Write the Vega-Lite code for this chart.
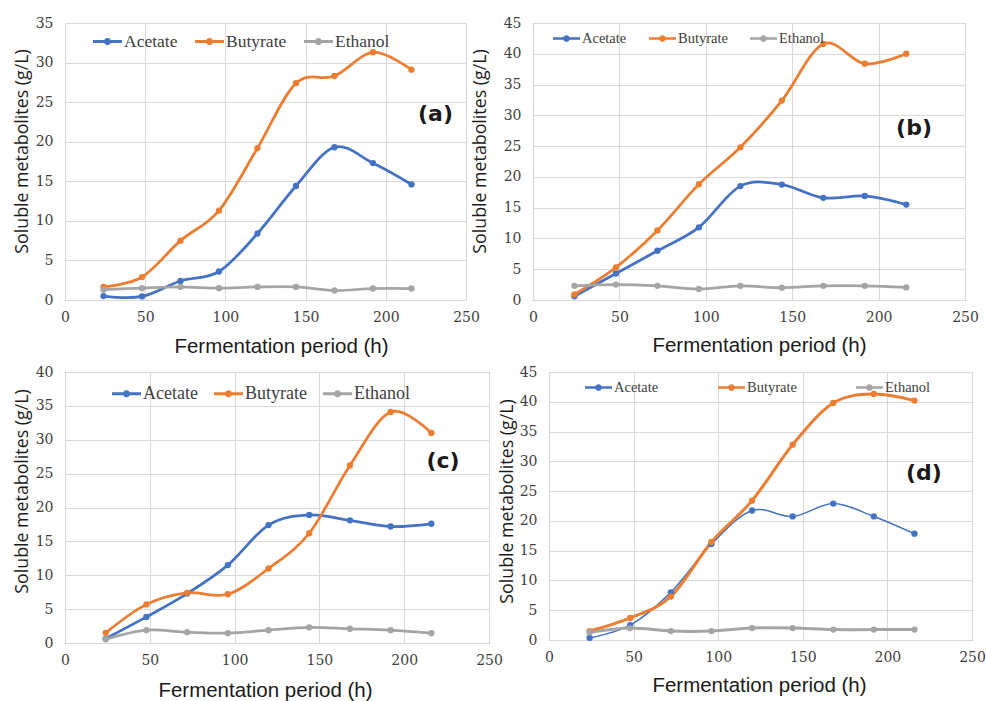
{
  "$schema": "https://vega.github.io/schema/vega-lite/v6.json",
  "padding": {"left": 12, "top": 15, "right": 0, "bottom": 0},
  "background": "white",
  "datasets": {
    "all": [
      {"p":"a","s":"Acetate","h":24,"v":0.5},{"p":"a","s":"Acetate","h":48,"v":0.45},{"p":"a","s":"Acetate","h":72,"v":2.4},{"p":"a","s":"Acetate","h":96,"v":3.6},{"p":"a","s":"Acetate","h":120,"v":8.4},{"p":"a","s":"Acetate","h":144,"v":14.4},{"p":"a","s":"Acetate","h":168,"v":19.3},{"p":"a","s":"Acetate","h":192,"v":17.3},{"p":"a","s":"Acetate","h":216,"v":14.6},
      {"p":"a","s":"Butyrate","h":24,"v":1.65},{"p":"a","s":"Butyrate","h":48,"v":2.9},{"p":"a","s":"Butyrate","h":72,"v":7.5},{"p":"a","s":"Butyrate","h":96,"v":11.3},{"p":"a","s":"Butyrate","h":120,"v":19.2},{"p":"a","s":"Butyrate","h":144,"v":27.4},{"p":"a","s":"Butyrate","h":168,"v":28.3},{"p":"a","s":"Butyrate","h":192,"v":31.3},{"p":"a","s":"Butyrate","h":216,"v":29.1},
      {"p":"a","s":"Ethanol","h":24,"v":1.3},{"p":"a","s":"Ethanol","h":48,"v":1.5},{"p":"a","s":"Ethanol","h":72,"v":1.65},{"p":"a","s":"Ethanol","h":96,"v":1.5},{"p":"a","s":"Ethanol","h":120,"v":1.65},{"p":"a","s":"Ethanol","h":144,"v":1.65},{"p":"a","s":"Ethanol","h":168,"v":1.2},{"p":"a","s":"Ethanol","h":192,"v":1.45},{"p":"a","s":"Ethanol","h":216,"v":1.45},
      {"p":"b","s":"Acetate","h":24,"v":0.6},{"p":"b","s":"Acetate","h":48,"v":4.3},{"p":"b","s":"Acetate","h":72,"v":8.0},{"p":"b","s":"Acetate","h":96,"v":11.8},{"p":"b","s":"Acetate","h":120,"v":18.5},{"p":"b","s":"Acetate","h":144,"v":18.75},{"p":"b","s":"Acetate","h":168,"v":16.6},{"p":"b","s":"Acetate","h":192,"v":16.9},{"p":"b","s":"Acetate","h":216,"v":15.5},
      {"p":"b","s":"Butyrate","h":24,"v":0.9},{"p":"b","s":"Butyrate","h":48,"v":5.3},{"p":"b","s":"Butyrate","h":72,"v":11.3},{"p":"b","s":"Butyrate","h":96,"v":18.8},{"p":"b","s":"Butyrate","h":120,"v":24.8},{"p":"b","s":"Butyrate","h":144,"v":32.4},{"p":"b","s":"Butyrate","h":168,"v":41.6},{"p":"b","s":"Butyrate","h":192,"v":38.4},{"p":"b","s":"Butyrate","h":216,"v":40.0},
      {"p":"b","s":"Ethanol","h":24,"v":2.3},{"p":"b","s":"Ethanol","h":48,"v":2.5},{"p":"b","s":"Ethanol","h":72,"v":2.3},{"p":"b","s":"Ethanol","h":96,"v":1.8},{"p":"b","s":"Ethanol","h":120,"v":2.3},{"p":"b","s":"Ethanol","h":144,"v":2.0},{"p":"b","s":"Ethanol","h":168,"v":2.3},{"p":"b","s":"Ethanol","h":192,"v":2.3},{"p":"b","s":"Ethanol","h":216,"v":2.05},
      {"p":"c","s":"Acetate","h":24,"v":0.65},{"p":"c","s":"Acetate","h":48,"v":3.85},{"p":"c","s":"Acetate","h":72,"v":7.3},{"p":"c","s":"Acetate","h":96,"v":11.5},{"p":"c","s":"Acetate","h":120,"v":17.4},{"p":"c","s":"Acetate","h":144,"v":18.9},{"p":"c","s":"Acetate","h":168,"v":18.1},{"p":"c","s":"Acetate","h":192,"v":17.2},{"p":"c","s":"Acetate","h":216,"v":17.6},
      {"p":"c","s":"Butyrate","h":24,"v":1.5},{"p":"c","s":"Butyrate","h":48,"v":5.7},{"p":"c","s":"Butyrate","h":72,"v":7.4},{"p":"c","s":"Butyrate","h":96,"v":7.2},{"p":"c","s":"Butyrate","h":120,"v":11.0},{"p":"c","s":"Butyrate","h":144,"v":16.2},{"p":"c","s":"Butyrate","h":168,"v":26.2},{"p":"c","s":"Butyrate","h":192,"v":34.1},{"p":"c","s":"Butyrate","h":216,"v":31.0},
      {"p":"c","s":"Ethanol","h":24,"v":0.55},{"p":"c","s":"Ethanol","h":48,"v":1.9},{"p":"c","s":"Ethanol","h":72,"v":1.6},{"p":"c","s":"Ethanol","h":96,"v":1.45},{"p":"c","s":"Ethanol","h":120,"v":1.9},{"p":"c","s":"Ethanol","h":144,"v":2.3},{"p":"c","s":"Ethanol","h":168,"v":2.1},{"p":"c","s":"Ethanol","h":192,"v":1.9},{"p":"c","s":"Ethanol","h":216,"v":1.45},
      {"p":"d","s":"Acetate","h":24,"v":0.35},{"p":"d","s":"Acetate","h":48,"v":2.5},{"p":"d","s":"Acetate","h":72,"v":8.0},{"p":"d","s":"Acetate","h":96,"v":16.1},{"p":"d","s":"Acetate","h":120,"v":21.75},{"p":"d","s":"Acetate","h":144,"v":20.75},{"p":"d","s":"Acetate","h":168,"v":22.9},{"p":"d","s":"Acetate","h":192,"v":20.75},{"p":"d","s":"Acetate","h":216,"v":17.85},
      {"p":"d","s":"Butyrate","h":24,"v":1.5},{"p":"d","s":"Butyrate","h":48,"v":3.7},{"p":"d","s":"Butyrate","h":72,"v":7.3},{"p":"d","s":"Butyrate","h":96,"v":16.45},{"p":"d","s":"Butyrate","h":120,"v":23.4},{"p":"d","s":"Butyrate","h":144,"v":32.8},{"p":"d","s":"Butyrate","h":168,"v":39.8},{"p":"d","s":"Butyrate","h":192,"v":41.3},{"p":"d","s":"Butyrate","h":216,"v":40.2},
      {"p":"d","s":"Ethanol","h":24,"v":1.3},{"p":"d","s":"Ethanol","h":48,"v":2.0},{"p":"d","s":"Ethanol","h":72,"v":1.5},{"p":"d","s":"Ethanol","h":96,"v":1.5},{"p":"d","s":"Ethanol","h":120,"v":2.0},{"p":"d","s":"Ethanol","h":144,"v":2.0},{"p":"d","s":"Ethanol","h":168,"v":1.75},{"p":"d","s":"Ethanol","h":192,"v":1.75},{"p":"d","s":"Ethanol","h":216,"v":1.75}
    ]
  },
  "config": {
    "axis": {
      "grid": true, "gridColor": "#D9D9D9", "gridWidth": 1,
      "domain": false, "ticks": false, "tickSize": 0, "labelFlush": false, "labelOverlap": false,
      "labelFont": "DejaVu Serif", "labelFontSize": 14, "labelColor": "#404040",
      "titleFontWeight": "normal", "titleColor": "#1a1a1a"
    },
    "axisX": {"titleFont": "Liberation Sans", "titleFontSize": 20.5, "labelPadding": 10, "titlePadding": 12},
    "axisY": {"titleFont": "Open Sans", "titleFontSize": 17.8, "labelPadding": 12},
    "legend": {
      "orient": "none", "direction": "horizontal", "title": null,
      "labelFont": "Liberation Serif", "labelColor": "#404040", "labelOffset": 2,
      "symbolType": "M-1,-0.1H1V0.1H-1Z M-0.25,0A0.25,0.25,0,1,1,0.25,0A0.25,0.25,0,1,1,-0.25,0Z",
      "symbolStrokeWidth": 0
    }
  },
  "spacing": 7,
  "resolve": {"scale": {"color": "independent"}, "legend": {"color": "independent"}},
  "vconcat": [
    {
      "spacing": -10,
      "resolve": {"scale": {"color": "independent"}, "legend": {"color": "independent"}},
      "hconcat": [
        {
          "width": 401, "height": 277,
          "view": {"stroke": "#D9D9D9"},
          "data": {"name": "all"},
          "transform": [{"filter": "datum.p === 'a'"}],
          "layer": [
            {
              "mark": {"type": "line", "interpolate": "cardinal", "strokeWidth": 2.75, "point": {"filled": true, "size": 40}},
              "encoding": {
                "x": {"field": "h", "type": "quantitative", "scale": {"domain": [0, 250], "nice": false}, "axis": {"values": [0,50,100,150,200,250], "title": "Fermentation period (h)", "titleX": 216}},
                "y": {"field": "v", "type": "quantitative", "scale": {"domain": [0, 35], "nice": false}, "axis": {"values": [0,5,10,15,20,25,30,35], "title": "Soluble metabolites (g/L)", "titlePadding": 4, "titleY": 128}},
                "color": {"field": "s", "type": "nominal", "scale": {"domain": ["Acetate","Butyrate","Ethanol"], "range": ["#4472C4","#ED7D31","#A5A5A5"]},
                  "legend": {"legendX": 28, "legendY": 4, "labelFontSize": 17.5, "symbolSize": 841, "columnPadding": 17,
                    "encode": {"symbols": {"update": {"fill": {"signal": "datum.value === 'Acetate' ? '#4472C4' : datum.value === 'Butyrate' ? '#ED7D31' : '#A5A5A5'"}}}}}}
              }
            },
            {
              "data": {"values": [{}]},
              "mark": {"type": "text", "font": "DejaVu Sans", "fontWeight": "bold", "fontSize": 22, "align": "center", "baseline": "middle", "color": "#1a1a1a"},
              "encoding": {
                "x": {"datum": 231, "type": "quantitative", "axis": {"values": [0,50,100,150,200,250], "title": "Fermentation period (h)", "titleX": 216}},
                "y": {"datum": 23.5, "type": "quantitative", "axis": {"values": [0,5,10,15,20,25,30,35], "title": "Soluble metabolites (g/L)", "titlePadding": 4, "titleY": 128}},
                "text": {"value": "(a)"}}
            }
          ]
        },
        {
          "width": 432, "height": 277,
          "view": {"stroke": "#4472C4"},
          "data": {"name": "all"},
          "transform": [{"filter": "datum.p === 'b'"}],
          "layer": [
            {
              "mark": {"type": "line", "interpolate": "cardinal", "strokeWidth": 2.75, "point": {"filled": true, "size": 40}},
              "encoding": {
                "x": {"field": "h", "type": "quantitative", "scale": {"domain": [0, 250], "nice": false}, "axis": {"values": [0,50,100,150,200,250], "title": "Fermentation period (h)", "titleX": 226, "titlePadding": 11}},
                "y": {"field": "v", "type": "quantitative", "scale": {"domain": [0, 45], "nice": false}, "axis": {"values": [0,5,10,15,20,25,30,35,40,45], "title": "Soluble metabolites (g/L)", "titlePadding": 14, "titleY": 128}},
                "color": {"field": "s", "type": "nominal", "scale": {"domain": ["Acetate","Butyrate","Ethanol"], "range": ["#4472C4","#ED7D31","#A5A5A5"]},
                  "legend": {"legendX": 20, "legendY": 2, "labelFontSize": 14.5, "symbolSize": 729, "columnPadding": 22,
                    "encode": {"symbols": {"update": {"fill": {"signal": "datum.value === 'Acetate' ? '#4472C4' : datum.value === 'Butyrate' ? '#ED7D31' : '#A5A5A5'"}}}}}}
              }
            },
            {
              "data": {"values": [{}]},
              "mark": {"type": "text", "font": "DejaVu Sans", "fontWeight": "bold", "fontSize": 22, "align": "center", "baseline": "middle", "color": "#1a1a1a"},
              "encoding": {
                "x": {"datum": 220.5, "type": "quantitative", "axis": {"values": [0,50,100,150,200,250], "title": "Fermentation period (h)", "titleX": 226, "titlePadding": 11}},
                "y": {"datum": 27.9, "type": "quantitative", "axis": {"values": [0,5,10,15,20,25,30,35,40,45], "title": "Soluble metabolites (g/L)", "titlePadding": 14, "titleY": 128}},
                "text": {"value": "(b)"}}
            }
          ]
        }
      ]
    },
    {
      "spacing": -6,
      "resolve": {"scale": {"color": "independent"}, "legend": {"color": "independent"}},
      "hconcat": [
        {
          "width": 424, "height": 271,
          "view": {"stroke": "#4472C4"},
          "data": {"name": "all"},
          "transform": [{"filter": "datum.p === 'c'"}],
          "layer": [
            {
              "mark": {"type": "line", "interpolate": "cardinal", "strokeWidth": 2.75, "point": {"filled": true, "size": 40}},
              "encoding": {
                "x": {"field": "h", "type": "quantitative", "scale": {"domain": [0, 250], "nice": false}, "axis": {"values": [0,50,100,150,200,250], "title": "Fermentation period (h)", "titleX": 200, "titlePadding": 13}},
                "y": {"field": "v", "type": "quantitative", "scale": {"domain": [0, 40], "nice": false}, "axis": {"values": [0,5,10,15,20,25,30,35,40], "title": "Soluble metabolites (g/L)", "titlePadding": 4, "titleY": 119}},
                "color": {"field": "s", "type": "nominal", "scale": {"domain": ["Acetate","Butyrate","Ethanol"], "range": ["#4472C4","#ED7D31","#A5A5A5"]},
                  "legend": {"legendX": 47, "legendY": 7, "labelFontSize": 18, "symbolSize": 841, "columnPadding": 16,
                    "encode": {"symbols": {"update": {"fill": {"signal": "datum.value === 'Acetate' ? '#4472C4' : datum.value === 'Butyrate' ? '#ED7D31' : '#A5A5A5'"}}}}}}
              }
            },
            {
              "data": {"values": [{}]},
              "mark": {"type": "text", "font": "DejaVu Sans", "fontWeight": "bold", "fontSize": 22, "align": "center", "baseline": "middle", "color": "#1a1a1a"},
              "encoding": {
                "x": {"datum": 222.9, "type": "quantitative", "axis": {"values": [0,50,100,150,200,250], "title": "Fermentation period (h)", "titleX": 200, "titlePadding": 13}},
                "y": {"datum": 26.9, "type": "quantitative", "axis": {"values": [0,5,10,15,20,25,30,35,40], "title": "Soluble metabolites (g/L)", "titlePadding": 4, "titleY": 119}},
                "text": {"value": "(c)"}}
            }
          ]
        },
        {
          "width": 423, "height": 268,
          "view": {"stroke": "#4472C4"},
          "data": {"name": "all"},
          "transform": [{"filter": "datum.p === 'd'"}],
          "layer": [
            {
              "mark": {"type": "line", "interpolate": "cardinal", "point": {"filled": true, "size": 40}},
              "encoding": {
                "x": {"field": "h", "type": "quantitative", "scale": {"domain": [0, 250], "nice": false}, "axis": {"values": [0,50,100,150,200,250], "title": "Fermentation period (h)", "titleX": 210, "titlePadding": 11}},
                "y": {"field": "v", "type": "quantitative", "scale": {"domain": [0, 45], "nice": false}, "axis": {"values": [0,5,10,15,20,25,30,35,40,45], "title": "Soluble metabolites (g/L)", "titlePadding": 3, "titleY": 129}},
                "strokeWidth": {"condition": {"test": "datum.s === 'Acetate'", "value": 1.5}, "value": 3},
                "color": {"field": "s", "type": "nominal", "scale": {"domain": ["Acetate","Butyrate","Ethanol"], "range": ["#4472C4","#ED7D31","#A5A5A5"]},
                  "legend": {"legendX": 36, "legendY": 2, "labelFontSize": 14.5, "symbolSize": 729, "columnPadding": 59,
                    "encode": {"symbols": {"update": {"fill": {"signal": "datum.value === 'Acetate' ? '#4472C4' : datum.value === 'Butyrate' ? '#ED7D31' : '#A5A5A5'"}}}}}}
              }
            },
            {
              "data": {"values": [{}]},
              "mark": {"type": "text", "font": "DejaVu Sans", "fontWeight": "bold", "fontSize": 22, "align": "center", "baseline": "middle", "color": "#1a1a1a"},
              "encoding": {
                "x": {"datum": 221.6, "type": "quantitative", "axis": {"values": [0,50,100,150,200,250], "title": "Fermentation period (h)", "titleX": 210, "titlePadding": 11}},
                "y": {"datum": 28.0, "type": "quantitative", "axis": {"values": [0,5,10,15,20,25,30,35,40,45], "title": "Soluble metabolites (g/L)", "titlePadding": 3, "titleY": 129}},
                "text": {"value": "(d)"}}
            }
          ]
        }
      ]
    }
  ]
}
